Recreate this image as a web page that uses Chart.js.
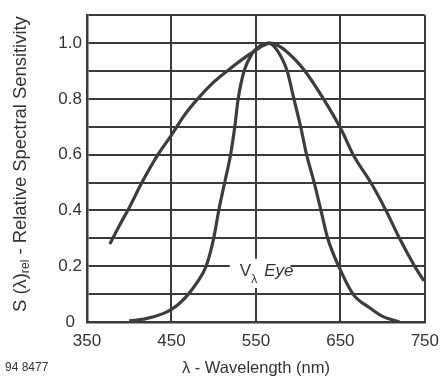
<!DOCTYPE html>
<html>
<head>
<meta charset="utf-8">
<script src="https://cdn.jsdelivr.net/npm/chart.js@4.4.1/dist/chart.umd.min.js"></script>
<style>
  html, body { margin: 0; padding: 0; background: #ffffff; }
  #wrap { width: 448px; height: 381px; position: relative; }
</style>
</head>
<body>
<div id="wrap"><canvas id="c" width="448" height="381"></canvas></div>
<script>
// ---- data ----
const detectorWavelengths = [377, 390, 400, 415, 434, 450, 465, 481, 500, 520, 540, 550, 558, 567, 580, 595, 608, 630, 651, 666, 686, 704, 720, 738, 749];
const detectorSensitivity = [0.28, 0.355, 0.41, 0.50, 0.60, 0.67, 0.74, 0.80, 0.86, 0.91, 0.955, 0.975, 0.99, 1.0, 0.985, 0.945, 0.90, 0.80, 0.69, 0.595, 0.50, 0.40, 0.30, 0.20, 0.147];

const eyeWavelengths = [400, 420, 440, 450, 460, 470, 480, 491, 500, 506, 513, 520, 525, 529, 536, 545, 555, 565, 575, 587, 595, 603, 610, 619, 627, 635, 648, 665, 685, 700, 720];
const eyeSensitivity = [0.004, 0.012, 0.03, 0.045, 0.068, 0.10, 0.14, 0.20, 0.30, 0.40, 0.50, 0.60, 0.70, 0.80, 0.90, 0.96, 0.99, 1.0, 0.975, 0.90, 0.80, 0.70, 0.60, 0.50, 0.40, 0.30, 0.20, 0.10, 0.05, 0.02, 0.0];

const xTickLabels = ['350', '450', '550', '650', '750'];
const yTickLabels = ['0', '0.2', '0.4', '0.6', '0.8', '1.0'];

const yTitleMain = 'S (λ)';
const yTitleSub = 'rel';
const yTitleRest = ' - Relative Spectral Sensitivity';
const xTitle = 'λ - Wavelength (nm)';
const figureCode = '94 8477';
const eyeLabel = ['V', 'λ', 'Eye'];

// ---- styling ----
const INK = '#333333';
const GRID = '#3a3a3a';
const FONT = '"Liberation Sans", Arial, Helvetica, sans-serif';

const toPoints = (xs, ys) => xs.map((x, i) => ({ x: x, y: ys[i] }));

const decorPlugin = {
  id: 'decor',
  beforeDatasetsDraw(chart) {
    const ctx = chart.ctx;
    const xs = chart.scales.x, ys = chart.scales.y;
    // white gap on the grid for the "Vλ Eye" label
    const x0 = xs.getPixelForValue(519), x1 = xs.getPixelForValue(591);
    const y0 = ys.getPixelForValue(0.227), y1 = ys.getPixelForValue(0.122);
    ctx.save();
    ctx.fillStyle = '#ffffff';
    ctx.fillRect(x0, y0, x1 - x0, y1 - y0);
    ctx.fillStyle = INK;
    ctx.textBaseline = 'alphabetic';
    let tx = xs.getPixelForValue(531);
    const base = ys.getPixelForValue(0.166);
    ctx.font = '17px ' + FONT;
    ctx.fillText(eyeLabel[0], tx, base);
    tx += ctx.measureText(eyeLabel[0]).width;
    ctx.font = '12px ' + FONT;
    ctx.fillText(eyeLabel[1], tx, base + 7);
    tx += ctx.measureText(eyeLabel[1]).width + 7;
    ctx.font = 'italic 17px ' + FONT;
    ctx.fillText(eyeLabel[2], tx, base);
    ctx.restore();
  },
  afterDraw(chart) {
    const ctx = chart.ctx;
    const area = chart.chartArea;
    ctx.save();
    ctx.fillStyle = INK;
    // rotated y-axis title with subscript, sized to span the reference length
    const targetLen = 296;
    const measure = (sz) => {
      ctx.font = sz + 'px ' + FONT;
      const a = ctx.measureText(yTitleMain).width + ctx.measureText(yTitleRest).width;
      ctx.font = (sz * 0.66) + 'px ' + FONT;
      return a + ctx.measureText(yTitleSub).width;
    };
    const size = 16 * targetLen / measure(16);
    ctx.translate(21, 164);
    ctx.rotate(-Math.PI / 2);
    const big = size + 'px ' + FONT, small = (size * 0.66) + 'px ' + FONT;
    ctx.font = big;
    const w1 = ctx.measureText(yTitleMain).width;
    ctx.font = small;
    const w2 = ctx.measureText(yTitleSub).width;
    let px = -targetLen / 2;
    ctx.textBaseline = 'middle';
    ctx.font = big;
    ctx.fillText(yTitleMain, px, 0);
    px += w1;
    ctx.font = small;
    ctx.fillText(yTitleSub, px, 5);
    px += w2;
    ctx.font = big;
    ctx.fillText(yTitleRest, px, 0);
    ctx.restore();
    // figure code
    ctx.save();
    ctx.fillStyle = INK;
    ctx.font = '12px ' + FONT;
    ctx.textBaseline = 'middle';
    ctx.fillText(figureCode, 5, 368);
    ctx.restore();
  }
};

new Chart(document.getElementById('c'), {
  type: 'line',
  data: {
    datasets: [
      {
        label: 'Detector',
        data: toPoints(detectorWavelengths, detectorSensitivity),
        borderColor: '#3d3d3d',
        borderWidth: 3.2,
        pointRadius: 0,
        cubicInterpolationMode: 'monotone',
        fill: false
      },
      {
        label: 'V Eye',
        data: toPoints(eyeWavelengths, eyeSensitivity),
        borderColor: '#3d3d3d',
        borderWidth: 3.2,
        pointRadius: 0,
        cubicInterpolationMode: 'monotone',
        fill: false
      }
    ]
  },
  options: {
    responsive: false,
    animation: false,
    events: [],
    layout: { padding: { left: 0, top: 7, right: 15, bottom: 0 } },
    plugins: { legend: { display: false }, tooltip: { enabled: false } },
    scales: {
      x: {
        type: 'linear',
        min: 350,
        max: 750,
        afterFit(scale) { scale.height = 59; },
        grid: { color: GRID, lineWidth: 2, drawTicks: false },
        border: { display: true, color: GRID, width: 2.5 },
        ticks: {
          stepSize: 100,
          color: INK,
          font: { family: FONT, size: 17 },
          padding: 9,
          maxRotation: 0,
          callback(value) { return xTickLabels[Math.round((value - 350) / 100)]; }
        },
        title: { display: true, text: xTitle, color: INK, font: { family: FONT, size: 16.5 }, padding: { top: 0, bottom: 3 } }
      },
      y: {
        type: 'linear',
        min: 0,
        max: 1.1,
        afterFit(scale) { scale.width = 87; },
        grid: { color: GRID, lineWidth: 2, drawTicks: false },
        border: { display: true, color: GRID, width: 2.5 },
        ticks: {
          stepSize: 0.1,
          color: INK,
          font: { family: FONT, size: 17 },
          padding: 5,
          crossAlign: 'center',
          callback(value) {
            const k = Math.round(value * 10);
            return (k % 2 === 0 && k <= 10) ? yTickLabels[k / 2] : '';
          }
        }
      }
    }
  },
  plugins: [decorPlugin]
});
</script>
</body>
</html>
